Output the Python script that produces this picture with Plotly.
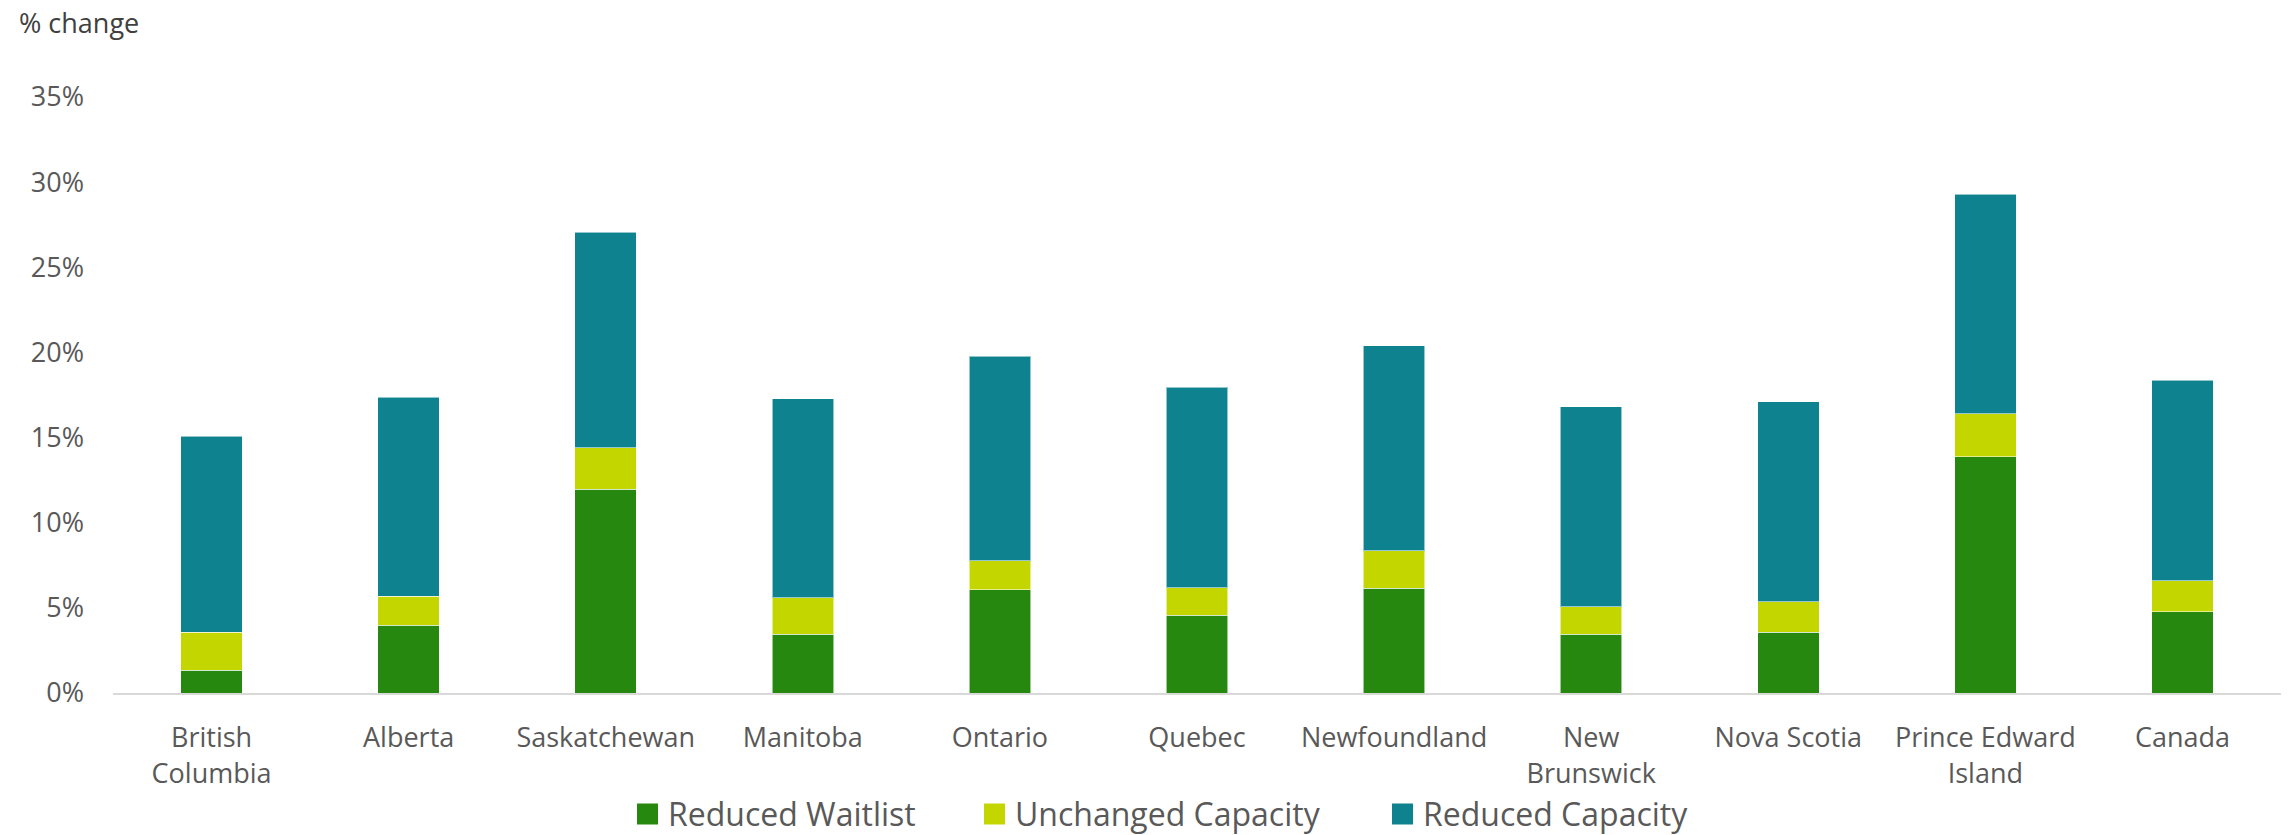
import plotly.graph_objects as go

# Provinces / national total (line breaks as shown on the axis)
categories = [
    "British<br>Columbia", "Alberta", "Saskatchewan", "Manitoba", "Ontario",
    "Quebec", "Newfoundland", "New<br>Brunswick", "Nova Scotia",
    "Prince Edward<br>Island", "Canada",
]

# Stacked components, in percentage points
reduced_waitlist = [1.35, 3.98, 11.96, 3.46, 6.07, 4.57, 6.16, 3.46, 3.58, 13.86, 4.77]
unchanged_capacity = [2.21, 1.69, 2.43, 2.13, 1.70, 1.61, 2.20, 1.61, 1.78, 2.54, 1.81]
reduced_capacity = [11.52, 11.71, 12.67, 11.69, 12.00, 11.79, 12.02, 11.73, 11.73, 12.88, 11.79]

series_names = ["Reduced Waitlist", "Unchanged Capacity", "Reduced Capacity"]
series_colors = ["#26880E", "#C4D600", "#0E838F"]

y_ticks = [0, 5, 10, 15, 20, 25, 30, 35]

FONT = "Open Sans"
TEXT_GREY = "#595959"

W, H = 2290, 835
ML, MR, MT, MB = 113, 9, 97, 142
PW, PH = W - ML - MR, H - MT - MB


def px_x(px):
    return (px - ML) / PW


def px_y(py):
    return (H - MB - py) / PH


fig = go.Figure()
for name, vals, col in zip(series_names,
                           [reduced_waitlist, unchanged_capacity, reduced_capacity],
                           series_colors):
    fig.add_trace(go.Bar(
        x=categories, y=vals, name=name,
        marker=dict(color=col, line=dict(color="rgba(255,255,255,0.55)", width=1)),
        showlegend=False,
    ))

fig.update_layout(
    width=W, height=H,
    margin=dict(l=ML, r=MR, t=MT, b=MB, pad=0),
    barmode="stack",
    bargap=0.688,
    plot_bgcolor="white",
    paper_bgcolor="white",
    font=dict(family=FONT, color=TEXT_GREY, size=27),
)

fig.update_xaxes(
    showline=True, linecolor="#D9D9D9", linewidth=2,
    showgrid=False, zeroline=False, ticks="",
    tickfont=dict(family=FONT, size=27, color=TEXT_GREY),
    ticklabelstandoff=20,
)
fig.update_yaxes(
    range=[0, 35], tickvals=y_ticks, ticktext=[f"{v}%" for v in y_ticks],
    showgrid=False, zeroline=False, showline=False, ticks="",
    tickfont=dict(family=FONT, size=27, color=TEXT_GREY),
    ticklabelstandoff=28,
)

# Axis caption above the value labels
fig.add_annotation(
    text="% change", xref="paper", yref="paper",
    x=px_x(17), y=px_y(22), xanchor="left", yanchor="middle",
    showarrow=False, font=dict(family=FONT, size=27, color="#404040"),
)

# Legend row along the bottom: square swatch + label for each series
legend_swatch_left = [637, 984, 1392]
swatch = 21
swatch_cy = 814
text_cy = 813
for name, col, left in zip(series_names, series_colors, legend_swatch_left):
    fig.add_shape(
        type="rect", xref="paper", yref="paper",
        x0=px_x(left), x1=px_x(left + swatch),
        y0=px_y(swatch_cy + swatch / 2), y1=px_y(swatch_cy - swatch / 2),
        fillcolor=col, line=dict(width=0),
    )
    fig.add_annotation(
        text=name, xref="paper", yref="paper",
        x=px_x(left + swatch + 8), y=px_y(text_cy),
        xanchor="left", yanchor="middle", showarrow=False,
        font=dict(family=FONT, size=32, color=TEXT_GREY),
    )

fig.write_html("out.html")
